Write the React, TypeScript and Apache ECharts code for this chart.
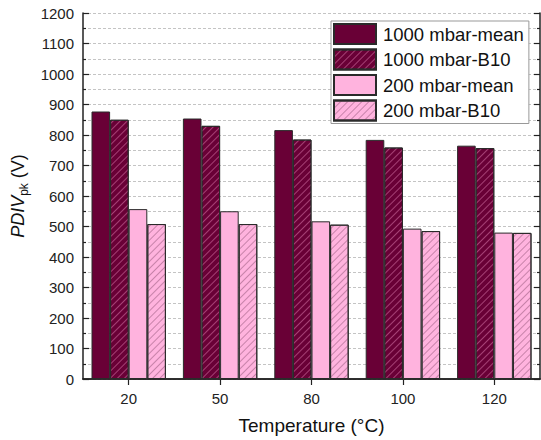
import React, { useEffect, useRef } from "react";
import * as echarts from "echarts";

const categories = ["20", "50", "80", "100", "120"];
const mean1000 = [877, 854, 816, 784, 765];
const b10_1000 = [850, 830, 785, 759, 757];
const mean200 = [557, 550, 517, 493, 480];
const b10_200 = [508, 508, 506, 485, 479];
const seriesNames = ["1000 mbar-mean", "1000 mbar-B10", "200 mbar-mean", "200 mbar-B10"];

const DARK = "#690036";
const PINK = "#FFB3DE";
const FONT = "Liberation Sans, Arial, sans-serif";

export default function App() {
  const ref = useRef<HTMLDivElement>(null);
  useEffect(() => {
    document.body.style.margin = "0";
    const chart = echarts.init(ref.current!, null, { renderer: "svg" });
    const hatch = (color: string) => ({
      symbol: "rect",
      symbolSize: 1,
      color,
      dashArrayX: [1, 0],
      dashArrayY: [1, 4],
      rotation: -Math.PI / 4,
    });
    const bar = (name: string, data: number[], fill: string, decal?: any) => ({
      name,
      type: "bar",
      data,
      barWidth: 18.6,
      barGap: "0%",
      itemStyle: {
        color: fill,
        borderColor: "#2a2a2a",
        borderWidth: 1,
        ...(decal ? { decal } : {}),
      },
    });
    const yCommon = {
      type: "value",
      min: 0,
      max: 1200,
      interval: 100,
      axisLine: { show: true, lineStyle: { color: "#222", width: 1.5 } },
      axisTick: { show: true, inside: true, length: 6, lineStyle: { color: "#222", width: 1.2 } },
      minorTick: { show: true, splitNumber: 2, length: 3, lineStyle: { color: "#222", width: 1.2 } },
    };
    chart.setOption({
      animation: false,
      textStyle: { fontFamily: FONT },
      aria: { enabled: false },
      grid: { left: 83, right: 1, top: 13, bottom: 58, containLabel: false },
      legend: {
        orient: "vertical",
        left: 331,
        top: 21,
        padding: [2, 5, 2, 2],
        itemWidth: 42,
        itemHeight: 20,
        itemGap: 3.5,
        icon: "rect",
        borderColor: "#999",
        borderWidth: 1,
        backgroundColor: "#fff",
        textStyle: { fontSize: 18.5, color: "#111", fontFamily: FONT, padding: [0, 0, 0, 2] },
        data: seriesNames,
      },
      xAxis: [
        {
          type: "category",
          data: categories,
          position: "bottom",
          name: "Temperature (°C)",
          nameLocation: "middle",
          nameGap: 37,
          nameTextStyle: { fontSize: 19, color: "#111", fontFamily: FONT },
          axisLine: { show: true, lineStyle: { color: "#222", width: 1.5 } },
          axisTick: { show: true, alignWithLabel: true, inside: false, length: 6, lineStyle: { color: "#222", width: 1.2 } },
          axisLabel: { fontSize: 15, color: "#222", margin: 12, fontFamily: FONT },
          splitLine: { show: false },
        },
        {
          type: "category",
          data: categories,
          position: "top",
          axisLine: { show: true, lineStyle: { color: "#222", width: 1.5 } },
          axisTick: { show: false },
          axisLabel: { show: false },
          splitLine: { show: false },
        },
      ],
      yAxis: [
        {
          ...yCommon,
          position: "left",
          name: "{i|PDIV}{s|pk}{n| (V)}",
          nameLocation: "middle",
          nameGap: 46,
          nameTextStyle: {
            fontSize: 18,
            color: "#111",
            fontFamily: FONT,
            rich: {
              i: { fontStyle: "italic", fontSize: 18, lineHeight: 24, verticalAlign: "middle", color: "#111", fontFamily: FONT },
              s: { fontSize: 12, lineHeight: 12, verticalAlign: "bottom", color: "#111", fontFamily: FONT },
              n: { fontSize: 18, lineHeight: 24, verticalAlign: "middle", color: "#111", fontFamily: FONT },
            },
          },
          axisLabel: { fontSize: 15, color: "#222", margin: 9, fontFamily: FONT, formatter: (v: number) => String(v) },
          splitLine: { show: true, lineStyle: { color: "#c4c4c4", type: [3, 2], width: 1 } },
          minorSplitLine: { show: true, lineStyle: { color: "#c4c4c4", type: [3, 2], width: 1 } },
        },
        {
          ...yCommon,
          position: "right",
          axisLabel: { show: false },
          splitLine: { show: false },
          minorSplitLine: { show: false },
        },
      ],
      series: [
        bar(seriesNames[0], mean1000, DARK),
        bar(seriesNames[1], b10_1000, DARK, hatch("rgba(225,130,180,0.5)")),
        bar(seriesNames[2], mean200, PINK),
        bar(seriesNames[3], b10_200, PINK, hatch("rgba(130,70,105,0.45)")),
      ],
    });
    return () => chart.dispose();
  }, []);
  return <div ref={ref} style={{ width: 541, height: 440 }} />;
}
